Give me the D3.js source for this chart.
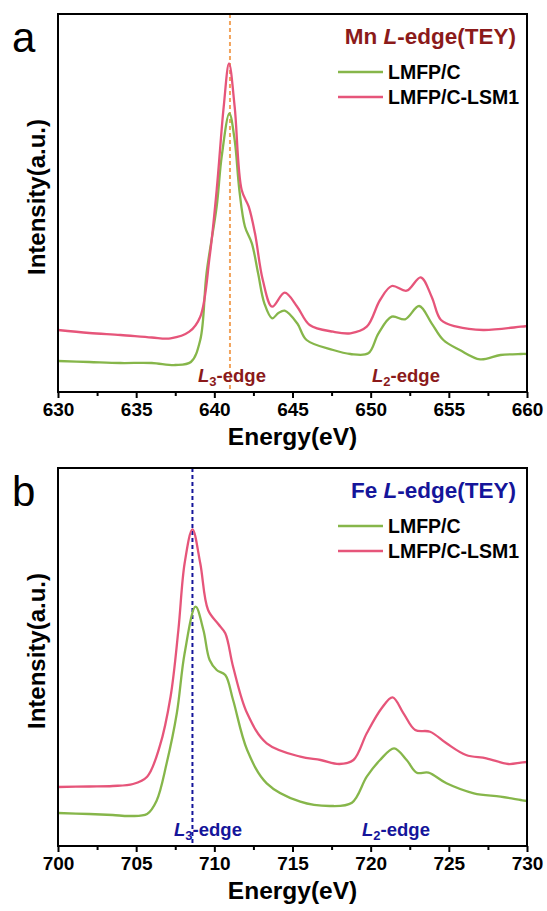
<!DOCTYPE html>
<html>
<script src='https://cdnjs.cloudflare.com/ajax/libs/d3/7.8.5/d3.min.js'></script>
<style>
 body {margin:0; background:#fff;}
 text {font-family: 'Liberation Sans', Arial, sans-serif;}
</style>
<body onload='init()'>
<svg width=547 height=911></svg>
<script>

// Mn L-edge (panel a): energy (eV) and intensity (a.u.)
var mnE = [630,632,634,636,637.5,638.5,639.1,639.5,640.15,640.47,640.96,641.3,641.6,641.96,642.4,642.8,643.2,643.7,644.1,644.5,645.3,645.9,647.6,648.7,649.85,650.5,651.35,652.2,653.1,653.9,654.65,655.7,657,658.3,659.6,660];
var mnC = [31,30,29,29,27,30,52,118.7,185.3,235.3,278.7,252,202,165.3,148.7,118.7,88.7,73.7,79,81.3,68.7,52,42,38,38.7,58.7,75.3,72.7,86,68.7,52,42,32.7,37,38,38];
var mnE2 = [630,632,634,636,637.2,638.4,639.1,639.7,640.15,640.6,640.94,641.3,641.75,642.2,642.6,643.1,643.7,644.5,645.3,646.1,647.6,648.7,649.75,650.6,651.35,652.3,653.2,653.9,654.5,655.5,657.2,659.6,660];
var mnLSM = [62,59,57,54.5,53.7,60.3,75.3,135.3,202,285.3,328.7,285.3,202,185.3,158.7,112,85.3,99.3,85.3,67,60.3,58.7,65.3,92,106,101.3,114.7,95.3,72,65.3,62,65.3,66];

// Fe L-edge (panel b)
var feE = [700,702,703.5,704.6,705.7,706.3,706.95,707.6,708.1,708.8,709.3,709.7,710.15,710.7,711.2,712.1,713.35,715.5,717.4,718.8,719.75,720.6,721.5,722.3,722.95,723.7,724.85,726.6,728.3,729.6,730];
var feC = [33,32,31,30,32,45,82.7,132.7,192.7,239.3,216,186,176,171,146,96,62.7,44.3,40,43.3,69.3,86,97.7,86,73.3,73.3,62.7,52.7,49.3,46,45];
var feE2 = [700,702,703.5,704.8,705.7,706.5,707.2,707.7,708.1,708.6,709.1,709.6,710.25,710.7,711.2,712.1,713.35,715.5,716.8,718,718.9,719.75,720.7,721.4,722.1,722.85,723.8,724.85,726.1,727.4,728.8,729.6,730];
var feLSM = [59,59.5,60,62,69.3,99.3,149.3,216,282.7,316.7,282.7,236,222,212.7,179.3,132.7,102.7,89.3,86,82,86,112.7,137.7,148.7,132.7,116,114.3,102.7,91,87.7,82,83.3,84];

var seriesNames = ['LMFP/C', 'LMFP/C-LSM1'];
var green = '#86b64a', pink = '#e6557a';

function init() {
 var svg = d3.select('svg');

 drawPanel(svg, {
  top: 14, bottom: 392, xDom: [630,660], letter: 'a',
  el: 'Mn', color: '#8b1a1a', dash: '#f2a45c', dashX: 641,
  e1: mnE, y1: mnC, e2: mnE2, y2: mnLSM, l3: 232, l2: 406
 });
 drawPanel(svg, {
  top: 468, bottom: 846, xDom: [700,730], letter: 'b',
  el: 'Fe', color: '#15159a', dash: '#15159a', dashX: 708.6,
  e1: feE, y1: feC, e2: feE2, y2: feLSM, l3: 208, l2: 396
 });
}

function drawPanel(svg, c) {
 var left = 58, right = 527;
 var x = d3.scaleLinear().domain(c.xDom).range([left, right]);
 var y = d3.scaleLinear().domain([0, 378]).range([c.bottom, c.top]);
 var g = svg.append('g');

 var line = d3.line().curve(d3.curveCatmullRom)
  .x(function (d) { return x(d[0]); })
  .y(function (d) { return y(d[1]); });

 // dashed reference line
 g.append('line')
  .attr('x1', x(c.dashX)).attr('x2', x(c.dashX))
  .attr('y1', c.top).attr('y2', c.bottom)
  .attr('stroke', c.dash).attr('stroke-width', 2)
  .attr('stroke-dasharray', '4,3');

 g.append('path').datum(d3.zip(c.e1, c.y1))
  .attr('d', line).attr('fill', 'none')
  .attr('stroke', green).attr('stroke-width', 2.3);
 g.append('path').datum(d3.zip(c.e2, c.y2))
  .attr('d', line).attr('fill', 'none')
  .attr('stroke', pink).attr('stroke-width', 2.3);

 // x axis: major every 5, minor every 2.5
 var minor = d3.range(c.xDom[0] + 2.5, c.xDom[1], 5);
 g.append('g')
  .attr('transform', 'translate(0,' + c.bottom + ')')
  .call(d3.axisBottom(x).tickValues(minor).tickSize(4).tickFormat(''))
  .call(function (a) { a.select('.domain').remove(); })
  .selectAll('line').attr('stroke-width', 2);
 var ax = g.append('g')
  .attr('transform', 'translate(0,' + c.bottom + ')')
  .call(d3.axisBottom(x).ticks(6).tickSize(6).tickPadding(5));
 ax.select('.domain').remove();
 ax.selectAll('line').attr('stroke-width', 2);
 ax.selectAll('text').attr('font-size', 19).attr('font-weight', 'bold')
  .attr('fill', '#000').style('font-family', "'Liberation Sans', Arial, sans-serif");

 // frame
 g.append('rect')
  .attr('x', left).attr('y', c.top)
  .attr('width', right - left).attr('height', c.bottom - c.top)
  .attr('fill', 'none').attr('stroke', '#000').attr('stroke-width', 2);

 g.append('text')
  .attr('x', (left + right) / 2).attr('y', c.bottom + 53)
  .attr('text-anchor', 'middle').attr('font-size', 24.5).attr('font-weight', 'bold')
  .text('Energy(eV)');

 g.append('text')
  .attr('transform', 'translate(45,' + ((c.top + c.bottom) / 2 - 6) + ') rotate(-90)')
  .attr('text-anchor', 'middle').attr('font-size', 24).attr('font-weight', 'bold')
  .text('Intensity(a.u.)');

 g.append('text')
  .attr('x', 12).attr('y', c.top + 38)
  .attr('font-size', 42)
  .text(c.letter);

 // title
 var t = g.append('text')
  .attr('x', 516).attr('y', c.top + 30)
  .attr('text-anchor', 'end').attr('font-size', 22.5).attr('font-weight', 'bold')
  .attr('fill', c.color);
 t.append('tspan').text(c.el + ' ');
 t.append('tspan').attr('font-style', 'italic').text('L');
 t.append('tspan').text('-edge(TEY)');

 // legend
 [green, pink].forEach(function (col, i) {
  var ly = c.top + 58 + i * 25;
  g.append('line').attr('x1', 338).attr('x2', 383)
   .attr('y1', ly).attr('y2', ly)
   .attr('stroke', col).attr('stroke-width', 2.5);
  g.append('text').attr('x', 388).attr('y', ly + 7)
   .attr('font-size', 19.5).attr('font-weight', 'bold')
   .text(seriesNames[i]);
 });

 // edge labels
 [[c.l3, '3'], [c.l2, '2']].forEach(function (p) {
  var lt = g.append('text')
   .attr('x', p[0]).attr('y', c.bottom - 10)
   .attr('text-anchor', 'middle').attr('font-size', 18.5).attr('font-weight', 'bold')
   .attr('fill', c.color);
  lt.append('tspan').attr('font-style', 'italic').text('L');
  lt.append('tspan').attr('font-size', 13).attr('dy', 4).text(p[1]);
  lt.append('tspan').attr('dy', -4).text('-edge');
 });
}

</script>
</body>
</html>
